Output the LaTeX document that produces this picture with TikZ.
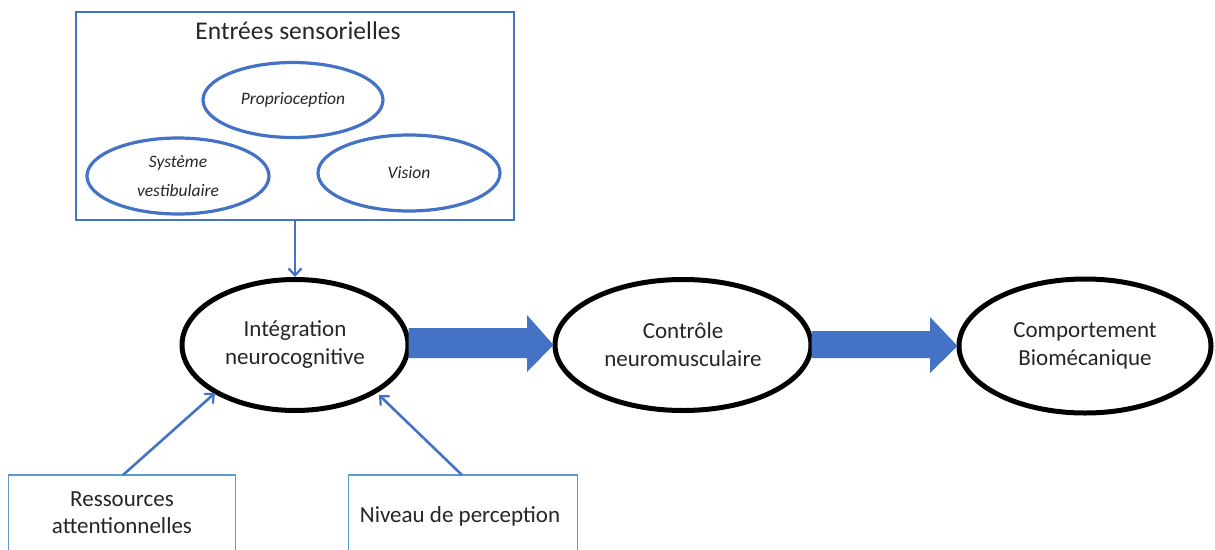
\documentclass[tikz,border=0pt]{standalone}
\usepackage{fontspec}
\setmainfont{Carlito}
\usetikzlibrary{shapes.geometric,arrows.meta,calc}
\definecolor{mblue}{HTML}{4472C4}
\definecolor{lblue}{HTML}{5B9BD5}
\definecolor{txt}{HTML}{262626}
\tikzset{
  bigell/.style={ellipse,draw=black,line width=5pt,fill=white,inner sep=0pt,align=center,text=txt,font=\fontsize{23}{28}\selectfont},
  smallell/.style={ellipse,draw=mblue,line width=3.2pt,inner sep=0pt,align=center,text=txt,font=\itshape\fontsize{17.5}{29}\selectfont},
  thinarr/.style={draw=mblue,line width=2.6pt,-{Straight Barb[length=7pt,width=13pt,line width=2.2pt]}},
  bottombox/.style={draw=lblue,line width=1.6pt,inner sep=0pt,align=center},
  plain/.style={text=txt,font=\fontsize{23}{27}\selectfont,align=center},
}
\begin{document}
\begin{tikzpicture}[x=1pt,y=-1pt]
\useasboundingbox (0,0) rectangle (1215,549);
\clip (0,0) rectangle (1215,549);
% top box
\node[draw=mblue,line width=2pt,minimum width=438pt,minimum height=208pt,inner sep=0pt] (sens) at (295,116) {};
\node[text=txt,font=\fontsize{25.5}{30}\selectfont] (senst) at (298,31) {Entrées sensorielles};
\node[smallell,minimum width=180pt,minimum height=75pt] (prop) at (293,100) {\raisebox{-3pt}{Proprioception}};
\node[smallell,minimum width=182pt,minimum height=76pt] (vest) at (178,176) {Système\\vestibulaire};
\node[smallell,minimum width=182pt,minimum height=76pt] (vis) at (409,173) {Vision};
% main ellipses
\node[bigell,minimum width=226pt,minimum height=131pt] (int) at (295,345) {Intégration\\neurocognitive};
\node[bigell,minimum width=256pt,minimum height=131pt] (ctl) at (683,345) {Contrôle\\neuromusculaire};
\node[bigell,minimum width=252pt,minimum height=134pt] (comp) at (1085,346) {Comportement\\Biomécanique};
% bottom boxes
\node[bottombox,minimum width=227pt,minimum height=110pt] (res) at (122,530) {};
\node[bottombox,minimum width=229pt,minimum height=110pt] (niv) at (463,530) {};
\node[plain] (rest) at (122,513) {Ressources\\attentionnelles};
\node[plain] (nivt) at (460,516) {Niveau de perception};
% thin arrows
\draw[thinarr] (sens.south -| int.north) -- (int.north);
\coordinate (a1) at (123,475);
\coordinate (a2) at (462,475);
\coordinate (t1) at ($(int.center)+(-80,48)$);
\coordinate (t2) at ($(int.center)+(84,50)$);
\draw[thinarr] (a1) -- (t1);
\draw[thinarr] (a2) -- (t2);
% fat arrows
\fill[mblue] ($(int.east)+(-2,-17)$) -- (527,328) -- (527,315) -- ($(ctl.west)+(1,0)$) -- (527,372) -- (527,358) -- ($(int.east)+(-2,13)$) -- cycle;
\fill[mblue] ($(ctl.east)+(-2,-14)$) -- (930,331) -- (930,317) -- ($(comp.west)+(1,0)$) -- (930,373) -- (930,358) -- ($(ctl.east)+(-2,13)$) -- cycle;
\end{tikzpicture}
\end{document}
